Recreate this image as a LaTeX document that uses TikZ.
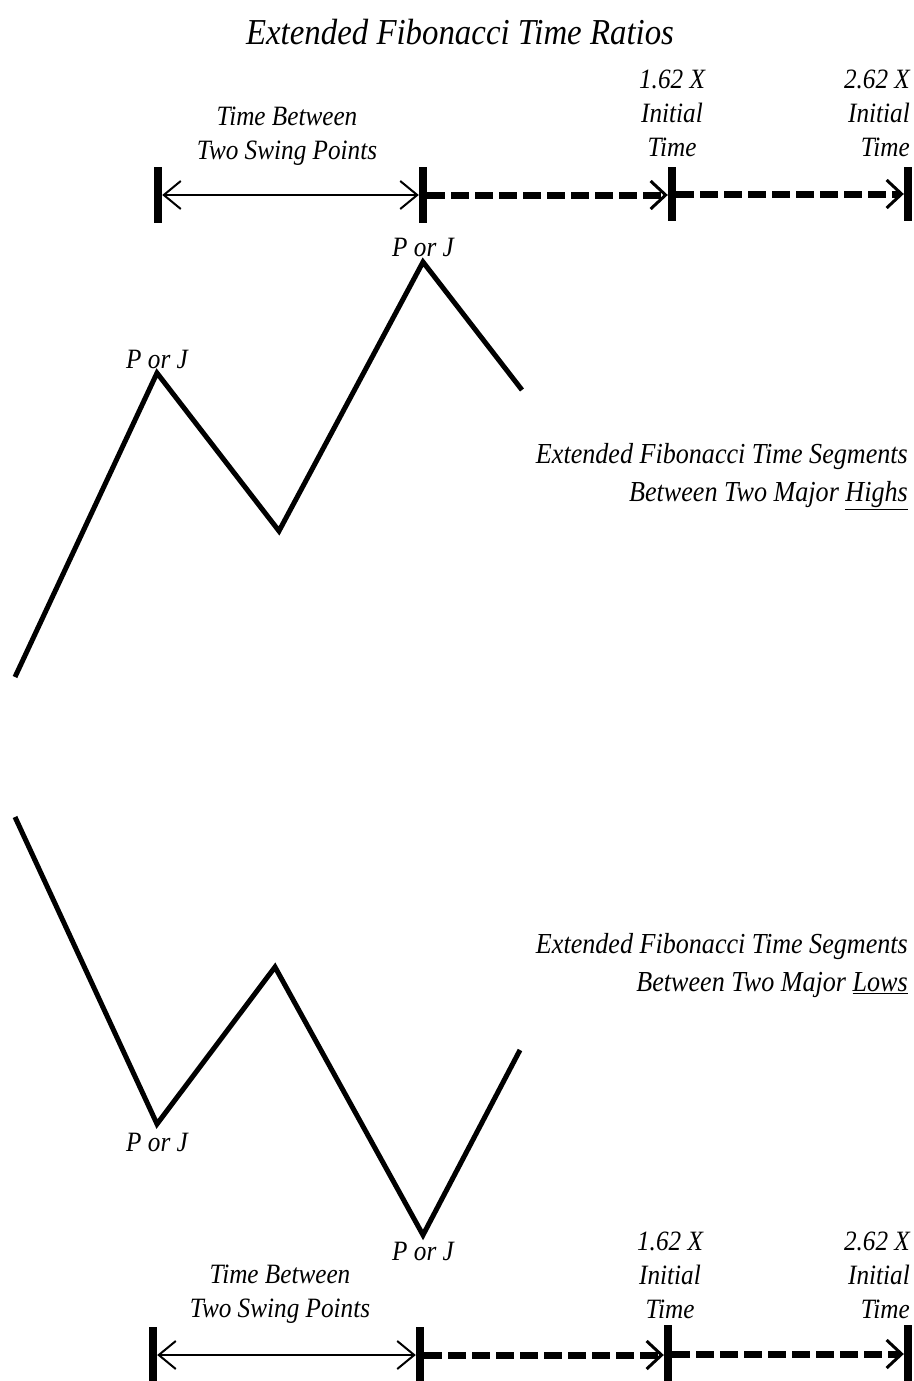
\documentclass[tikz,border=0pt]{standalone}
\usepackage{fontspec}
\setmainfont{Liberation Serif}[FakeStretch=0.9]
\usetikzlibrary{arrows.meta,positioning}

\begin{document}
\begin{tikzpicture}[x=1pt,y=-1pt,
  lbl/.style={font=\fontsize{28}{34}\selectfont\itshape,align=center,inner sep=0pt},
  seg/.style={font=\fontsize{29}{38}\selectfont\itshape,align=right,inner sep=0pt,anchor=east},
  tickbar/.style={rectangle,fill=black,inner sep=0pt,minimum width=8pt,minimum height=56pt},
  span/.style={{Straight Barb[length=17pt,width=28pt,line width=2pt]}-{Straight Barb[length=17pt,width=28pt,line width=2pt]},line width=2.5pt},
  ext/.style={-{Straight Barb[length=15pt,width=28pt,line width=3pt]},line width=7pt,dash pattern=on 18pt off 6pt},
  swing/.style={line width=5pt,line join=miter}
]
\useasboundingbox (0,0) rectangle (913,1381);

% Title
\node[font=\fontsize{36.5}{40}\selectfont\itshape,inner sep=0pt] (title) at (460,32) {Extended Fibonacci Time Ratios};

% Top time line
\node[tickbar] (a1) at (158,195) {};
\node[tickbar] (a2) at (423,195) {};
\node[tickbar,minimum height=54pt] (a3) at (672,194) {};
\node[tickbar,minimum height=54pt] (a4) at (908,194) {};

\draw[span] (a1) -- (a2);
\draw[ext]  (a2) -- (a2 -| a3.west);
\draw[ext]  (a3) -- (a3 -| a4.west);

\node[lbl] (tb1) at (287,136) {Time Between\\Two Swing Points};
\node[lbl] (r1a) at (672,113) {1.62 X\\Initial\\Time};
\node[lbl,align=right,anchor=east] (r1b) at (910,113) {2.62 X\\Initial\\Time};

% Swing between two highs
\coordinate (h0) at (15,677);
\coordinate (h1) at (157,373);
\coordinate (h2) at (279,531);
\coordinate (h3) at (423,262);
\coordinate (h4) at (522,390);
\draw[swing] (h0) -- (h1) -- (h2) -- (h3) -- (h4);

\node[lbl,above=4pt of h1] (pj1) {P or J};
\node[lbl,above=5pt of h3] (pj2) {P or J};

\node[seg] (hi) at (908,477) {Extended Fibonacci Time Segments\\Between Two Major \underline{Highs}};

% Swing between two lows
\coordinate (l0) at (15,817);
\coordinate (l1) at (157,1124);
\coordinate (l2) at (275,967);
\coordinate (l3) at (423,1235);
\coordinate (l4) at (520,1050);
\draw[swing] (l0) -- (l1) -- (l2) -- (l3) -- (l4);

\node[lbl,below=9pt of l1] (pj3) {P or J};
\node[lbl,below=7pt of l3] (pj4) {P or J};

\node[seg] (lo) at (908,966) {Extended Fibonacci Time Segments\\Between Two Major \underline{Lows}};

% Bottom time line
\node[tickbar] (b1) at (153,1355) {};
\node[tickbar] (b2) at (420,1355) {};
\node[tickbar,minimum height=58pt] (b3) at (668,1354) {};
\node[tickbar,minimum height=58pt] (b4) at (908,1354) {};

\draw[span] (b1) -- (b2);
\draw[ext]  (b2) -- (b2 -| b3.west);
\draw[ext]  (b3) -- (b3 -| b4.west);

\node[lbl] (tb2) at (280,1294) {Time Between\\Two Swing Points};
\node[lbl] (r2a) at (670,1275) {1.62 X\\Initial\\Time};
\node[lbl,align=right,anchor=east] (r2b) at (910,1275) {2.62 X\\Initial\\Time};
\end{tikzpicture}
\end{document}
